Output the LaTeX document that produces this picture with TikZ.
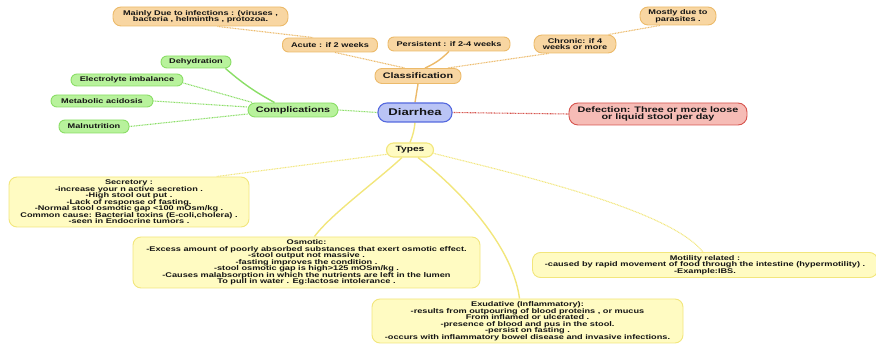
\documentclass[tikz,border=0pt]{standalone}
\usepackage{fontspec}
\setmainfont{Liberation Sans}[FakeStretch=1.35]
\usetikzlibrary{calc,backgrounds}
\definecolor{ofill}{RGB}{248,214,162}
\definecolor{oline}{RGB}{236,186,106}
\definecolor{gfill}{RGB}{184,242,156}
\definecolor{gline}{RGB}{138,222,102}
\definecolor{bfill}{RGB}{186,196,245}
\definecolor{bline}{RGB}{84,104,222}
\definecolor{rfill}{RGB}{246,188,182}
\definecolor{rline}{RGB}{214,84,78}
\definecolor{yfill}{RGB}{255,251,194}
\definecolor{yline}{RGB}{242,230,124}
\definecolor{txt}{RGB}{20,20,20}
\tikzset{
  base/.style={draw, line width=0.9pt, inner sep=0pt, align=center, text=txt},
  fsmall/.style={font=\fontsize{6.8}{6.5}\selectfont\bfseries},
  fmid/.style={font=\fontsize{8}{7.7}\selectfont\bfseries},
  ftypes/.style={font=\fontsize{7.6}{7.6}\selectfont\bfseries},
  fbig/.style={font=\fontsize{9.7}{9.7}\selectfont\bfseries},
  opill/.style={base, fill=ofill, draw=oline, rounded corners=6pt},
  gpill/.style={base, fill=gfill, draw=gline, rounded corners=6pt},
  ybox/.style={base, fill=yfill, draw=yline, rounded corners=8pt, fsmall},
  solidline/.style={line width=1.4pt},
  dotline/.style={line width=1.1pt, dash pattern=on 0.9pt off 0.7pt},
}
\begin{document}
\begin{tikzpicture}[x=1pt,y=-1pt]
\useasboundingbox (0,0) rectangle (876,344);
\clip (0,0) rectangle (876,344);
% classification branch
\node[opill, fsmall, minimum width=175, minimum height=19, rounded corners=8pt] (mainly) at (200.5,16.5)
  {Mainly Due to infections : (viruses ,\\bacteria , helminths , protozoa.};
\node[opill, fsmall, minimum width=76, minimum height=18, rounded corners=8pt] (mostly) at (678,16)
  {Mostly due to\\parasites .};
\node[opill, fsmall, minimum width=95, minimum height=14] (acute) at (330,45) {Acute : if 2 weeks};
\node[opill, fsmall, minimum width=122, minimum height=14] (persist) at (449,44) {Persistent : if 2-4 weeks};
\node[opill, fsmall, minimum width=82, minimum height=18, rounded corners=8pt] (chronic) at (575,44)
  {Chronic: if 4\\weeks or more};
\node[opill, fmid, minimum width=86, minimum height=15, rounded corners=7pt] (classif) at (418,76) {Classification};
% complications branch
\node[gpill, fsmall, minimum width=70, minimum height=12] (dehyd) at (196,62) {Dehydration};
\node[gpill, fsmall, minimum width=112, minimum height=12] (electro) at (127,80) {Electrolyte imbalance};
\node[gpill, fsmall, minimum width=102, minimum height=12] (metab) at (102,101) {Metabolic acidosis};
\node[gpill, fsmall, minimum width=70, minimum height=13] (malnut) at (94,126.5) {Malnutrition};
\node[gpill, fmid, minimum width=90, minimum height=14, rounded corners=7pt] (compl) at (293,110) {Complications};
% center
\node[base, fill=bfill, draw=bline, fbig, minimum width=74, minimum height=19, rounded corners=9pt, line width=1.1pt] (diarrhea) at (415,112.5) {Diarrhea};
\node[base, fill=rfill, draw=rline, fmid, minimum width=178, minimum height=22, rounded corners=9pt] (defect) at (658,114)
  {Defection: Three or more loose\\or liquid stool per day};
% types
\node[base, fill=yfill, draw=yline, ftypes, minimum width=47, minimum height=14, rounded corners=7pt, line width=1.1pt] (types) at (410,150) {Types};
\node[ybox, minimum width=240, minimum height=50] (secret) at (129,202) {Secretory :\\
-increase your n active secretion .\\
-High stool out put .\\
-Lack of response of fasting.\\
-Normal stool osmotic gap <100 mOsm/kg .\\
Common cause: Bacterial toxins (E-coli,cholera) .\\
-seen in Endocrine tumors .};
\node[ybox, minimum width=347, minimum height=51] (osmotic) at (306.5,262.5) {Osmotic:\\
-Excess amount of poorly absorbed substances that exert osmotic effect.\\
-stool output not massive .\\
-fasting improves the condition .\\
-stool osmotic gap is high>125 mOSm/kg .\\
-Causes malabsorption in which the nutrients are left in the lumen\\
To pull in water . Eg:lactose intolerance .};
\node[ybox, minimum width=345, minimum height=25] (motil) at (705,265) {Motility related :\\
-caused by rapid movement of food through the intestine (hypermotility) .\\
-Example:IBS.};
\node[ybox, minimum width=311, minimum height=44] (exud) at (527.5,321) {Exudative (Inflammatory):\\
-results from outpouring of blood proteins , or mucus\\
From inflamed or ulcerated .\\
-presence of blood and pus in the stool.\\
-persist on fasting .\\
-occurs with inflammatory bowel disease and invasive infections.};
% connectors
\begin{scope}[on background layer]
\draw[oline, dotline] ($(mainly.south)+(17,0)$) -- ($(acute.north)+(-17,0)$);
\draw[oline, dotline] ($(acute.south)+(5,0)$) -- ($(classif.north)+(-13,0)$);
\draw[oline, solidline] (persist.south) to[bend left=10] ($(classif.north)+(7,0)$);
\draw[oline, dotline] ($(chronic.south west)+(15,0)$) -- ($(classif.north east)+(-14,0)$);
\draw[oline, dotline] ($(mostly.south)+(-18,0)$) -- ($(chronic.north east)+(-8,0)$);
\draw[oline, solidline] (classif.south) -- (diarrhea.north);
\draw[gline, solidline] ($(dehyd.south east)+(-6,0)$) to[bend right=6] ($(compl.north west)+(27,0)$);
\draw[gline, dotline] ($(electro.east)+(0,3)$) -- ($(compl.north west)+(5,0)$);
\draw[gline, dotline] (metab.east) -- ($(compl.west)+(0,-3)$);
\draw[gline, dotline] (malnut.east) -- ($(compl.west)+(0,4)$);
\draw[gline, dotline] (compl.east) -- (diarrhea.west);
\draw[rline, dotline] (diarrhea.east) -- (defect.west);
\draw[yline, solidline] (diarrhea.south) to[bend left=8] (types.north);
\draw[yline, dotline] ($(types.west)+(3,4)$) -- ($(secret.north east)+(-33,0)$);
\draw[yline, solidline] ($(types.south)+(-8,0)$) .. controls (378,180) and (330,215) .. ($(osmotic.north)+(8,0)$);
\draw[yline, solidline] ($(types.south)+(8,0)$) .. controls (448,180) and (512,240) .. ($(exud.north)+(-8,0)$);
\draw[yline, dotline] ($(types.east)+(-2,3)$) .. controls (520,175) and (670,210) .. ($(motil.north)+(-2,0)$);
\end{scope}
\end{tikzpicture}
\end{document}
